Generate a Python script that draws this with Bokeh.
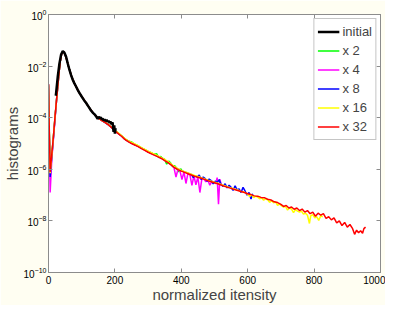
from bokeh.plotting import figure
from bokeh.models import FixedTicker, LogAxis, LinearAxis, Legend, LegendItem
from bokeh.embed import file_html
from bokeh.resources import INLINE

# ---------------- data (log10 of histogram values) ----------------
init_x = [22, 23, 28, 33, 38, 43, 48, 53, 58, 63, 68, 73, 78, 83, 88, 93, 98, 103, 108, 113,
          118, 123, 128, 133, 138, 143, 148, 151, 154, 157, 160, 163, 166, 169, 172, 175, 178,
          181, 184, 187, 190, 193, 196, 198, 200, 202]
init_log10 = [-3.15, -3.04, -2.4, -1.9, -1.55, -1.42, -1.48, -1.64, -1.9, -2.14,
              -2.35, -2.53, -2.67, -2.79, -2.92, -3.04, -3.14, -3.24, -3.34, -3.42,
              -3.52, -3.62, -3.72, -3.80, -3.86, -3.94, -4.05, -3.96, -4.02, -3.98,
              -4.06, -4.04, -4.10, -4.06, -4.14, -4.08, -4.16, -4.12, -4.20, -4.15,
              -4.26, -4.18, -4.55, -4.30, -4.62, -4.40]

x2_x = [0, 2, 5, 10, 15, 20, 25, 30, 35, 40, 45, 50, 55, 60,
        70, 80, 90, 100, 110, 120, 130, 140, 150, 160, 170, 180, 190, 200, 210, 220, 230,
        240, 250, 260, 270, 280, 290, 300, 310, 320,
        326, 332, 338, 344, 350, 356, 362, 368, 374, 380, 386, 392, 398, 402]
x2_log10 = [-2.75, -4.3, -6.2, -5.45, -4.7, -3.95, -3.2, -2.5, -1.85, -1.5, -1.43, -1.55, -1.75, -2.0,
            -2.42, -2.72, -2.97, -3.18, -3.37, -3.56, -3.74, -3.9, -4.02, -4.1, -4.18, -4.27, -4.38,
            -4.5, -4.6, -4.7, -4.82, -4.9, -4.94, -5.04, -5.09, -5.17, -5.24, -5.31, -5.37, -5.42,
            -5.40, -5.55, -5.50, -5.58, -5.62, -5.80, -5.68, -5.76, -5.90, -5.86, -5.96, -6.10, -5.98, -6.05]

x4_x = [0, 2, 5, 10, 15, 20, 25, 30, 35, 40, 45, 50, 55, 60,
        70, 80, 90, 100, 110, 120, 130, 140, 150, 160, 170, 180, 190, 200, 210, 220, 230, 240,
        250, 260, 270, 280, 290, 300, 310, 320, 330, 340, 350, 360, 370,
        378, 384, 390, 396, 402, 408, 414, 420, 426, 432, 438, 444, 450, 456, 462, 468, 474,
        480, 486, 492, 498, 504, 508, 512, 516, 520]
x4_log10 = [-2.7, -4.5, -6.9, -5.6, -4.8, -4.0, -3.2, -2.5, -1.85, -1.5, -1.43, -1.55, -1.75, -2.0,
            -2.42, -2.72, -2.97, -3.18, -3.37, -3.56, -3.74, -3.9, -4.02, -4.1,
            -4.18, -4.27, -4.38, -4.5, -4.61, -4.71, -4.83, -4.91, -4.98, -5.04,
            -5.1, -5.18, -5.25, -5.32, -5.38, -5.44, -5.5, -5.57, -5.64, -5.72, -5.82,
            -5.94, -6.30, -6.00, -6.06, -6.40, -6.10, -6.55, -6.16, -6.22, -6.62, -6.25, -6.60,
            -6.30, -6.90, -6.36, -6.38, -6.48, -6.42, -6.62, -6.46, -6.50, -6.56, -6.32, -7.35,
            -6.38, -6.58]

x8_x = [0, 2, 5, 10, 15, 20, 25, 30, 35, 40, 45, 50, 55, 60,
        70, 80, 90, 100, 110, 120, 130, 140, 150, 160, 170, 180, 190, 200, 210, 220, 230, 240,
        250, 260, 270, 280, 290, 300, 310, 320, 330, 340, 350, 360, 370, 380, 390, 400, 410, 420,
        430, 436, 442, 448, 454, 460, 466, 472, 478, 484, 490, 496, 502, 508, 514, 520, 526,
        532, 538, 544, 550, 556, 562, 568, 574, 580, 586, 592, 598, 604, 610, 615]
x8_log10 = [-2.7, -4.4, -6.3, -5.5, -4.75, -3.95, -3.2, -2.5, -1.85, -1.5, -1.43, -1.55, -1.75, -2.0,
            -2.42, -2.72, -2.97, -3.18, -3.37, -3.56, -3.74, -3.9, -4.02, -4.1,
            -4.18, -4.27, -4.38, -4.5, -4.61, -4.71, -4.83, -4.92, -4.98, -5.05,
            -5.1, -5.18, -5.25, -5.32, -5.38, -5.44, -5.5, -5.57, -5.64, -5.72,
            -5.82, -5.92, -5.99, -6.05, -6.1, -6.15,
            -6.20, -6.32, -6.24, -6.30, -6.22, -6.40, -6.30, -6.36, -6.46, -6.38, -6.44, -6.56,
            -6.46, -6.52, -6.40, -6.60, -6.66, -6.56, -6.72, -6.62, -6.70, -6.82, -6.64, -6.80,
            -6.76, -6.90, -6.70, -6.84, -7.00, -6.90, -7.15, -6.95]

x16_x = [0, 2, 5, 10, 15, 20, 25, 30, 35, 40, 45, 50, 55, 60,
         70, 80, 90, 100, 110, 120, 130, 140, 150, 160, 170, 180, 190, 200, 210, 220, 230, 240,
         250, 260, 270, 280, 290, 300, 310, 320, 330, 340, 350, 360, 370, 380, 390, 400, 410,
         420, 430, 440, 450, 460, 470, 480, 490, 500, 510, 520, 530, 540, 550, 560, 570, 580, 590,
         600, 606, 612, 618, 624, 630, 636, 642, 648, 654, 660, 666, 672, 678, 684, 690, 696,
         702, 708, 714, 720, 726, 732, 738, 744, 750, 756, 762, 768, 774, 780, 786, 790, 796,
         802, 808, 814, 820, 826]
x16_log10 = [-2.7, -4.3, -6.15, -5.45, -4.7, -3.92, -3.2, -2.5, -1.85, -1.5, -1.43, -1.55, -1.75, -2.0,
             -2.42, -2.72, -2.97, -3.18, -3.37, -3.56, -3.74, -3.9, -4.02, -4.1,
             -4.17, -4.26, -4.37, -4.49, -4.59, -4.69, -4.81, -4.9, -4.96, -5.02,
             -5.08, -5.16, -5.23, -5.3, -5.36, -5.42, -5.48, -5.55, -5.62, -5.7,
             -5.8, -5.9, -5.98, -6.04, -6.09, -6.14, -6.19, -6.24, -6.28, -6.33,
             -6.37, -6.42, -6.46, -6.5, -6.54, -6.59, -6.64, -6.68, -6.72, -6.76,
             -6.8, -6.86, -6.88,
             -6.97, -7.05, -6.99, -7.10, -7.04, -7.08, -7.14, -7.10, -7.20, -7.14,
             -7.18, -7.28, -7.22, -7.30, -7.26, -7.40, -7.34, -7.42, -7.46, -7.44,
             -7.58, -7.50, -7.54, -7.68, -7.56, -7.62, -7.66, -7.62, -7.74, -7.70,
             -7.78, -8.10, -7.80, -7.76, -7.88, -7.84, -7.98, -7.80, -7.84]

x32_x = [0, 2, 5, 10, 15, 20, 25, 30, 35, 40, 45, 50, 55, 60,
         70, 80, 90, 100, 110, 120, 130, 140, 150, 160, 170, 180, 190, 200, 210, 220, 230, 240,
         250, 260, 270, 280, 290, 300, 310, 320, 330, 340, 350, 360, 370, 380, 390, 400, 410,
         420, 430, 440, 450, 460, 470, 480, 490, 500, 510, 520, 530, 540, 550, 560, 570, 580, 590,
         600, 610, 620, 630, 640, 650, 660, 670, 680, 690, 700,
         708, 716, 724, 732, 740, 748, 756, 764, 772, 780, 788, 796, 804, 812, 820, 828, 836,
         844, 852, 860, 868, 876, 884, 892, 900, 908, 916,
         922, 928, 934, 940, 946, 950, 955]
x32_log10 = [-2.7, -4.2, -6.1, -5.4, -4.7, -3.9, -3.2, -2.5, -1.85, -1.5, -1.43, -1.55, -1.75, -2.0,
             -2.42, -2.72, -2.97, -3.18, -3.37, -3.56, -3.74, -3.9, -4.02, -4.1,
             -4.18, -4.27, -4.38, -4.52, -4.62, -4.72, -4.84, -4.93, -5.0, -5.06,
             -5.12, -5.2, -5.27, -5.34, -5.4, -5.46, -5.52, -5.58, -5.66, -5.74,
             -5.84, -5.94, -6.01, -6.07, -6.12, -6.17, -6.22, -6.27, -6.31, -6.35,
             -6.39, -6.44, -6.48, -6.52, -6.56, -6.61, -6.66, -6.7, -6.74, -6.78,
             -6.82, -6.86, -6.9, -6.95, -6.98, -7.03, -7.04, -7.09, -7.1, -7.16,
             -7.19, -7.26, -7.29, -7.36,
             -7.44, -7.40, -7.50, -7.46, -7.55, -7.50, -7.60, -7.54, -7.66, -7.60,
             -7.72, -7.66, -7.82, -7.70, -7.78, -7.72, -7.90, -7.84, -7.96, -7.88,
             -8.08, -8.00, -8.18, -8.06, -8.24, -8.14, -8.30,
             -8.52, -8.36, -8.46, -8.38, -8.48, -8.30, -8.24]

x_ticks = [0, 200, 400, 600, 800, 1000]
y_ticks = [1e-10, 1e-8, 1e-6, 1e-4, 1e-2, 1e0]
labels = ["initial", "x 2", "x 4", "x 8", "x 16", "x 32"]
colors = ["black", "#00ff00", "#ff00ff", "#0000ff", "#ffff00", "#ff0000"]


def unlog(v):
    return [10.0 ** e for e in v]


FONT = "Liberation Sans"
GRAY = "#8c8c8c"

p = figure(frame_width=332, frame_height=258, y_axis_type="log",
           x_range=(0, 1000), y_range=(1e-10, 1),
           output_backend="svg", toolbar_location=None,
           min_border_left=41, min_border_right=5, min_border_top=14, min_border_bottom=20)
p.background_fill_color = "white"
p.border_fill_color = "#fffef2"
p.outline_line_color = GRAY
p.grid.visible = False

series = [(x2_x, x2_log10), (x4_x, x4_log10), (x8_x, x8_log10),
          (x16_x, x16_log10), (x32_x, x32_log10)]
rends = []
for (xs, ys), c in zip(series, colors[1:]):
    rends.append(p.line(xs, unlog(ys), line_color=c, line_width=1.5))
r_init = p.line(init_x, unlog(init_log10), line_color="black", line_width=2.5)
rends = [r_init] + rends

bottom = p.below[0]
left = p.left[0]
bottom.ticker = FixedTicker(ticks=x_ticks, minor_ticks=[])
left.ticker = FixedTicker(ticks=y_ticks, minor_ticks=[])

right = LogAxis(ticker=FixedTicker(ticks=y_ticks, minor_ticks=[]),
                major_label_text_font_size="1px", major_label_text_alpha=0.0,
                major_label_standoff=0)
top = LinearAxis(ticker=FixedTicker(ticks=x_ticks, minor_ticks=[]),
                 major_label_text_font_size="1px", major_label_text_alpha=0.0,
                 major_label_standoff=0)
p.add_layout(right, "right")
p.add_layout(top, "above")

for ax in [bottom, left, right, top]:
    ax.axis_line_color = GRAY
    ax.major_tick_line_color = GRAY
    ax.major_tick_in = 4
    ax.major_tick_out = 0
    ax.minor_tick_in = 0
    ax.minor_tick_out = 0
    ax.major_label_text_font = FONT
    ax.axis_label_text_font = FONT
    ax.axis_label_text_font_style = "normal"

for ax in [bottom, left]:
    ax.major_label_text_color = "black"
    ax.major_label_text_font_size = "10px"
    ax.axis_label_text_font_size = "15px"
bottom.major_label_standoff = 3
bottom.axis_label_standoff = -1
left.major_label_standoff = 2
left.axis_label_standoff = 0
bottom.axis_label = "normalized itensity"
left.axis_label = "histograms"

legend = Legend(items=[LegendItem(label=l, renderers=[r]) for l, r in zip(labels, rends)],
                location="top_right")
legend.label_text_font = FONT
legend.label_text_font_size = "13px"
legend.glyph_width = 22
legend.glyph_height = 19
legend.label_height = 19
legend.spacing = 0
legend.padding = 3
legend.margin = 4
legend.label_standoff = 3
legend.border_line_color = GRAY
legend.background_fill_color = "white"
legend.background_fill_alpha = 1.0
p.add_layout(legend)

open("out.html", "w").write(file_html(p, INLINE))
